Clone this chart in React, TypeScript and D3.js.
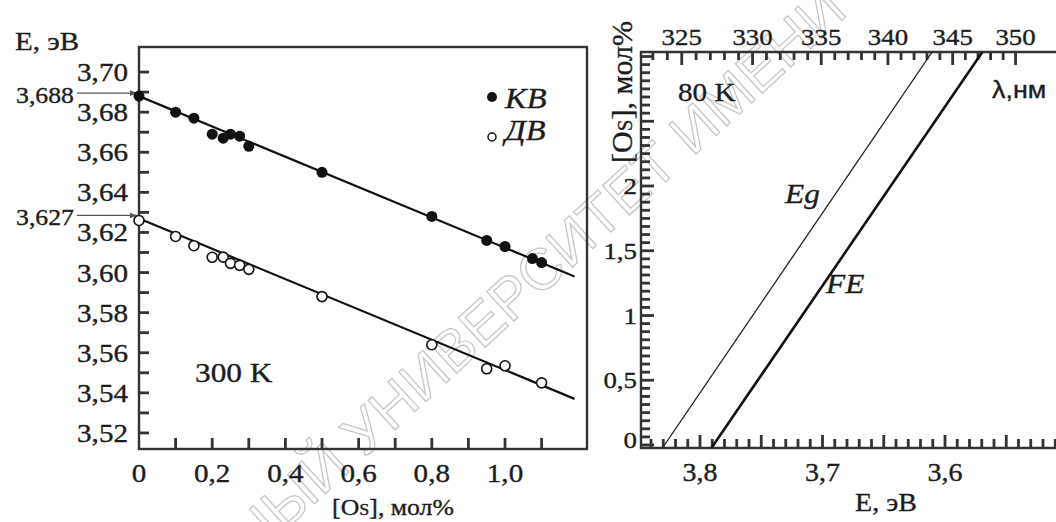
import React from "react";
import * as d3 from "d3";

const W = 1056;
const H = 522;
const SERIF = "'Liberation Serif', 'Times New Roman', serif";
const SANS = "'Liberation Sans', Arial, sans-serif";
const INK = "#1c1c1c";
const AXIS = "#333";
const STRETCH = 1.12;

// ---------- Left panel (300 K): KB / ДВ energies vs. Os content ----------
const kbConc = [0, 0.1, 0.15, 0.2, 0.23, 0.25, 0.275, 0.3, 0.5, 0.8, 0.95, 1.0, 1.075, 1.1];
const kbEnergy = [3.688, 3.68, 3.677, 3.669, 3.667, 3.669, 3.668, 3.663, 3.65, 3.628, 3.616, 3.613, 3.607, 3.605];
const dbConc = [0, 0.1, 0.15, 0.2, 0.23, 0.25, 0.275, 0.3, 0.5, 0.8, 0.95, 1.0, 1.1];
const dbEnergy = [3.626, 3.618, 3.6134, 3.6076, 3.6077, 3.6046, 3.6036, 3.6016, 3.588, 3.564, 3.552, 3.5535, 3.545];
const fitConc = [0, 1.19];
const kbFit = [3.688, 3.598];
const dbFit = [3.627, 3.537];
const intercepts = [3.688, 3.627];
const leftYTicks = d3.range(352, 371).map((v) => v / 100);
const leftXTicks = d3.range(1, 12).map((v) => v / 10);
const leftXLabels = [0, 0.2, 0.4, 0.6, 0.8, 1.0];

// ---------- Right panel (80 K): Eg and FE vs. Os content ----------
const lineConc = [0, 3];
const egEnergy = [3.829, 3.613];
const feEnergy = [3.789, 3.572];
const eTicks = d3.range(351, 385).map((v) => v / 100);
const eLabels = [3.8, 3.7, 3.6];
const cTicks = d3.range(0, 49).map((i) => i / 16);
const cLabels = [0, 0.5, 1, 1.5, 2];
const lambdaTicks = d3.range(323, 351);
const lambdaLabels = [325, 330, 335, 340, 345, 350];
const HC = 1239.84; // eV·nm

// ---------- scales ----------
const xL = d3.scaleLinear().domain([0, 1.224]).range([139, 587]);
const yL = d3.scaleLinear().domain([3.512, 3.7125]).range([449, 47]);
const xR = d3.scaleLinear().domain([3.8, 3.6]).range([700, 945]);
const yR = d3.scaleLinear().domain([0, 2]).range([445, 186]);
const R_LEFT = 641;
const R_TOP = 52;
const R_BOTTOM = 448;

const comma = (s: string) => s.replace(".", ",");
const fmt2 = (v: number) => comma(d3.format(".2f")(v));
const fmt1 = (v: number) => (v === 0 ? "0" : comma(d3.format(".1f")(v)));
const fmtC = (v: number) => comma(String(v));

function T({
  x,
  y,
  anchor = "start",
  size = 26,
  italic = false,
  family = SERIF,
  stretch = STRETCH,
  children,
}: any) {
  return (
    <text
      transform={`translate(${x},${y}) scale(${stretch},1)`}
      textAnchor={anchor}
      fontSize={size}
      fontStyle={italic ? "italic" : "normal"}
      fontFamily={family}
      fill={INK}
      stroke={INK}
      strokeWidth={0.35}
    >
      {children}
    </text>
  );
}

// Tick marks drawn as thin filled bars
const TW = 2.8;
function HTick({ x, y, len }: { x: number; y: number; len: number }) {
  return <rect x={x} y={y - TW / 2} width={len} height={TW} fill={AXIS} />;
}
function VTick({ x, y, len }: { x: number; y: number; len: number }) {
  // len > 0 goes downward from y, len < 0 goes upward
  return <rect x={x - TW / 2} y={len >= 0 ? y : y + len} width={TW} height={Math.abs(len)} fill={AXIS} />;
}

const isEven = (v: number) => Math.round(v * 100) % 2 === 0;
const isMajorE = (v: number) => Math.round(v * 100) % 5 === 0;

export default function App() {
  const kbLine = d3
    .line<number>()
    .x((c) => xL(c))
    .y((_, i) => yL(kbFit[i]))(fitConc);
  const dbLine = d3
    .line<number>()
    .x((c) => xL(c))
    .y((_, i) => yL(dbFit[i]))(fitConc);

  // Straight lines E(c) through the two tabulated points, extended to the frame
  const energyAt = (e: number[], c: number) =>
    e[0] + ((e[1] - e[0]) * (c - lineConc[0])) / (lineConc[1] - lineConc[0]);
  const cLow = yR.invert(R_BOTTOM);
  const cHigh = yR.invert(R_TOP);
  const straight = (e: number[]) =>
    d3
      .line<number>()
      .x((c) => xR(energyAt(e, c)))
      .y((c) => yR(c))([cLow, cHigh]);

  return (
    <svg
      width={W}
      height={H}
      viewBox={`0 0 ${W} ${H}`}
      style={{ position: "absolute", left: 0, top: 0, background: "#fff" }}
    >
      <defs>
        <marker id="arrow" viewBox="0 0 10 10" refX="10" refY="5" markerWidth="9" markerHeight="7" orient="auto" markerUnits="userSpaceOnUse">
          <path d="M0,1 L10,5 L0,9 Z" fill="#555" />
        </marker>
        <clipPath id="rclip">
          <rect x={R_LEFT} y={R_TOP} width={W - R_LEFT} height={R_BOTTOM - R_TOP} />
        </clipPath>
      </defs>
      <rect x={0} y={0} width={W} height={H} fill="#fff" />

      {/* watermark */}
      <text
        transform="translate(253,560) rotate(-42.5)"
        fontFamily={SANS}
        fontSize={58}
        fill="none"
        stroke="#c4c4c4"
        strokeWidth={1.2}
      >
        НЫЙ УНИВЕРСИТЕТ ИМЕНИ
      </text>

      {/* ================= left panel ================= */}
      <rect x={xL(0)} y={yL(3.7125)} width={xL(1.224) - xL(0)} height={yL(3.512) - yL(3.7125)} fill="none" stroke={AXIS} strokeWidth={2.4} />
      {leftYTicks.map((v) => (
        <HTick key={`lyt${v}`} x={xL(0)} y={yL(v)} len={10} />
      ))}
      {leftXTicks.map((v) => (
        <VTick key={`lxt${v}`} x={xL(v)} y={yL(3.512)} len={-11} />
      ))}
      {leftYTicks.filter(isEven).map((v) => (
        <T key={`lyl${v}`} x={128} y={yL(v) + 9} anchor="end" size={26}>
          {fmt2(v)}
        </T>
      ))}
      {leftXLabels.map((v) => (
        <T key={`lxl${v}`} x={xL(v)} y={482} anchor="middle" size={26}>
          {fmt1(v)}
        </T>
      ))}
      <T x={15} y={50} size={26}>E, эВ</T>
      <T x={393} y={515} anchor="middle" size={23}>
        <tspan>[O</tspan>
        <tspan fontSize="0.7em">S</tspan>
        <tspan>], мол%</tspan>
      </T>

      {/* intercept arrows */}
      {intercepts.map((v) => (
        <g key={`int${v}`}>
          <path d={`M77,${yL(v) - 3}H${xL(0) - 2}`} stroke="#555" strokeWidth={1.3} markerEnd="url(#arrow)" />
          <T x={74} y={yL(v) + 7} anchor="end" size={23}>
            {comma(d3.format(".3f")(v))}
          </T>
        </g>
      ))}

      {/* fitted lines */}
      <path d={kbLine ?? ""} fill="none" stroke="#111" strokeWidth={2.2} />
      <path d={dbLine ?? ""} fill="none" stroke="#111" strokeWidth={2.2} />

      {/* KB points (filled) */}
      {kbConc.map((c, i) => (
        <circle key={`kb${i}`} cx={xL(c)} cy={yL(kbEnergy[i])} r={5.5} fill="#111" />
      ))}
      {/* ДВ points (open) */}
      {dbConc.map((c, i) => (
        <circle key={`db${i}`} cx={xL(c)} cy={yL(dbEnergy[i])} r={5} fill="#fff" stroke="#111" strokeWidth={1.6} />
      ))}

      {/* legend */}
      <circle cx={492} cy={97} r={5} fill="#111" />
      <T x={505} y={108} size={29} italic>KB</T>
      <circle cx={492} cy={137} r={4} fill="#fff" stroke="#111" strokeWidth={1.5} />
      <T x={505} y={140} size={29} italic>ДВ</T>

      <T x={195} y={382} size={28}>300 K</T>

      {/* ================= right panel ================= */}
      <path
        d={`M${W},${R_TOP}H${R_LEFT}V${R_BOTTOM}H${W}`}
        fill="none"
        stroke={AXIS}
        strokeWidth={2.4}
      />
      {cTicks.map((c, i) => (
        <HTick key={`rct${i}`} x={R_LEFT} y={yR(c)} len={i % 8 === 0 ? 13 : 9} />
      ))}
      {eTicks.map((e, i) => (
        <VTick key={`ret${i}`} x={xR(e)} y={R_BOTTOM} len={isMajorE(e) ? -13 : -9} />
      ))}
      {lambdaTicks.map((l, i) => (
        <VTick key={`rlt${i}`} x={xR(HC / l)} y={R_TOP} len={l % 5 === 0 ? 13 : 8} />
      ))}

      {cLabels.map((c) => (
        <T key={`rcl${c}`} x={637} y={Math.min(yR(c) + 8, R_BOTTOM)} anchor="end" size={24}>
          {fmtC(c)}
        </T>
      ))}
      {eLabels.map((e) => (
        <T key={`rel${e}`} x={xR(e)} y={481} anchor="middle" size={25}>
          {fmt1(e)}
        </T>
      ))}
      <T x={886} y={511} anchor="middle" size={25}>E, эВ</T>
      {lambdaLabels.map((l) => (
        <T key={`rll${l}`} x={xR(HC / l)} y={45} anchor="middle" size={24}>
          {String(l)}
        </T>
      ))}
      <T x={992} y={98} size={24} family={SANS}>λ,нм</T>

      <text
        transform={`translate(632,92) rotate(-90)`}
        textAnchor="middle"
        fontSize={30}
        fontFamily={SERIF}
        fill={INK}
        stroke={INK}
        strokeWidth={0.35}
      >
        <tspan>[O</tspan>
        <tspan fontSize="0.7em">S</tspan>
        <tspan>], мол%</tspan>
      </text>

      <g clipPath="url(#rclip)">
        <path d={straight(egEnergy) ?? ""} fill="none" stroke="#222" strokeWidth={1.3} />
        <path d={straight(feEnergy) ?? ""} fill="none" stroke="#111" strokeWidth={2.6} />
      </g>

      <T x={785} y={203} size={28} italic>Eg</T>
      <T x={826} y={293} size={28} italic>FE</T>
      <T x={678} y={101} size={26}>80 K</T>
    </svg>
  );
}
